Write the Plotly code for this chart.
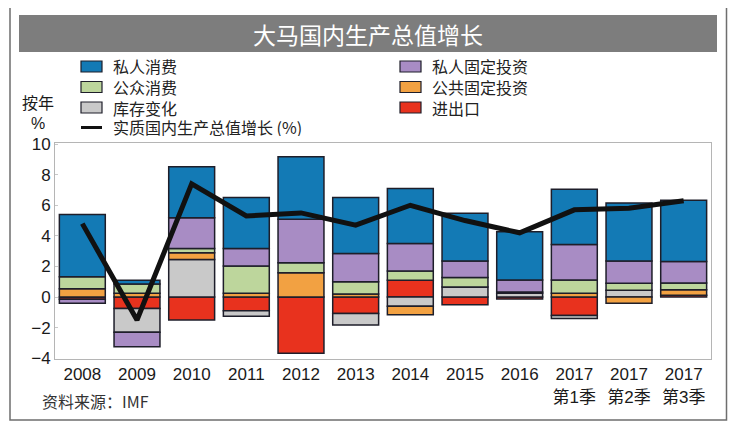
import plotly.graph_objects as go

categories = ["2008", "2009", "2010", "2011", "2012", "2013", "2014", "2015", "2016",
              "2017Q1", "2017Q2", "2017Q3"]
tick_labels = ["2008", "2009", "2010", "2011", "2012", "2013", "2014", "2015", "2016",
               "2017<br>第1季", "2017<br>第2季", "2017<br>第3季"]

# contributions to GDP growth (percentage points)
net_exports      = [-0.15, -0.75, -1.50, -0.90, -3.68, -1.07, 1.10, -0.50, -0.12, -1.20, 0.00, 0.12]
inventory        = [0.00, -1.55, 2.46, -0.35, 0.00, -0.76, -0.60, 0.66, 0.25, -0.20, 0.45, 0.00]
public_invest    = [0.55, 0.25, 0.44, 0.24, 1.59, 0.20, -0.55, 0.00, 0.00, 0.24, -0.40, 0.35]
public_consum    = [0.78, 0.60, 0.28, 1.79, 0.65, 0.80, 0.60, 0.61, 0.08, 0.87, 0.45, 0.45]
private_invest   = [-0.25, -0.95, 2.00, 1.15, 2.84, 1.85, 1.80, 1.09, 0.78, 2.33, 1.45, 1.40]
private_consum   = [4.07, 0.25, 3.33, 3.33, 4.09, 3.66, 3.60, 3.11, 3.16, 3.60, 3.80, 4.00]
gdp_growth       = [4.8, -1.5, 7.4, 5.3, 5.5, 4.7, 6.0, 5.0, 4.2, 5.7, 5.8, 6.3]

# stacking order (bottom-up for positives, top-down for negatives)
series_names = ["进出口", "库存变化", "公共固定投资", "公众消费", "私人固定投资", "私人消费"]
series_values = [net_exports, inventory, public_invest, public_consum, private_invest, private_consum]
series_colors = ["#e8321e", "#c9c9c9", "#f2a142", "#bdd69c", "#a88cc4", "#137ab5"]

# legend layout order (two columns, row by row)
legend_order = ["私人消费", "私人固定投资", "公众消费", "公共固定投资", "库存变化", "进出口"]

line_name = "实质国内生产总值增长 (%)"
title_text = "大马国内生产总值增长"
source_text = "资料来源：IMF"

FONT = "Liberation Sans, Arial, Noto Sans CJK SC, sans-serif"
CJK = "Noto Sans CJK SC, Liberation Sans, sans-serif"
OUTLINE = "#1e1e2a"

fig = go.Figure()
for name, vals, col in zip(series_names, series_values, series_colors):
    fig.add_trace(go.Bar(
        x=categories, y=vals, name=name,
        marker=dict(color=col, line=dict(color=OUTLINE, width=1.5)),
    ))
fig.add_trace(go.Scatter(
    x=categories, y=gdp_growth, name=line_name, mode="lines",
    line=dict(color="#111111", width=5),
))

# page offset of the figure (browser body margin)
OFF = 8
FIG_W, FIG_H = 740 - OFF, 435 - OFF
# plot area in page pixels: x 55..711, y 143..359
L, T, W, H = 55, 143, 656, 216
def px(x):
    return (x - L) / W
def py(y):
    return (T + H - y) / H

shapes = [
    dict(type="rect", xref="paper", yref="paper", x0=px(10), x1=px(726.5), y0=py(420), y1=py(7),
         line=dict(color="#6e6e6e", width=1.5), fillcolor="rgba(0,0,0,0)", layer="below"),
    dict(type="rect", xref="paper", yref="paper", x0=px(19), x1=px(717), y0=py(52), y1=py(15),
         line=dict(width=0), fillcolor="#7d7d7d", layer="below"),
]

annotations = [
    dict(text=title_text, xref="paper", yref="paper", x=px(368), y=py(34), showarrow=False,
         font=dict(family=CJK, size=23, color="white"), xanchor="center", yanchor="middle"),
    dict(text="按年", xref="paper", yref="paper", x=px(38), y=py(102), showarrow=False, height=18,
         font=dict(family=CJK, size=16, color="#1a1a1a"), xanchor="center", yanchor="middle"),
    dict(text="%", xref="paper", yref="paper", x=px(38), y=py(123), showarrow=False, height=18,
         font=dict(family=FONT, size=16, color="#1a1a1a"), xanchor="center", yanchor="middle"),
    dict(text=source_text, xref="paper", yref="paper", x=px(40), y=py(401), showarrow=False,
         font=dict(family=CJK, size=16, color="#333333"), xanchor="left", yanchor="middle"),
]

# manual two-column legend
col_x = [81, 400]
row_y = [66.5, 87, 107.5]
color_of = dict(zip(series_names, series_colors))
for i, name in enumerate(legend_order):
    cx = col_x[i % 2]
    cy = row_y[i // 2]
    shapes.append(dict(type="rect", xref="paper", yref="paper",
                       x0=px(cx), x1=px(cx + 21), y0=py(cy + 5.5), y1=py(cy - 5.5),
                       fillcolor=color_of[name], line=dict(color=OUTLINE, width=1.2)))
    annotations.append(dict(text=name, xref="paper", yref="paper", x=px(cx + 30), y=py(cy),
                            showarrow=False, xanchor="left", yanchor="middle", height=18,
                            font=dict(family=CJK, size=16, color="#222222")))
shapes.append(dict(type="line", xref="paper", yref="paper", x0=px(81), x1=px(102),
                   y0=py(127.5), y1=py(127.5), line=dict(color="#111111", width=3)))
annotations.append(dict(text=line_name, xref="paper", yref="paper", x=px(111), y=py(127.5),
                        showarrow=False, xanchor="left", yanchor="middle", height=18,
                        font=dict(family=CJK, size=16, color="#222222")))

fig.update_layout(
    width=FIG_W, height=FIG_H,
    margin=dict(l=L - OFF, r=740 - (L + W), t=T - OFF, b=435 - (T + H)),
    paper_bgcolor="white", plot_bgcolor="white",
    barmode="relative", bargap=0.16,
    font=dict(family=FONT, size=17, color="#1a1a1a"),
    showlegend=False,
    shapes=shapes, annotations=annotations,
)
fig.update_xaxes(type="category", categoryorder="array", categoryarray=categories,
                 tickvals=categories, ticktext=tick_labels,
                 showline=True, mirror=True, linecolor="#b5b5b5", linewidth=1,
                 showgrid=False, ticks="", tickfont=dict(family=FONT, size=17))
fig.update_yaxes(range=[-4.05, 10.07], tickvals=[-4, -2, 0, 2, 4, 6, 8, 10],
                 showline=True, mirror=True, linecolor="#b5b5b5", linewidth=1,
                 showgrid=False, zeroline=False, ticks="inside", ticklen=3, tickcolor="#c8c8c8",
                 tickfont=dict(family=FONT, size=17))

fig.write_html("out.html")
